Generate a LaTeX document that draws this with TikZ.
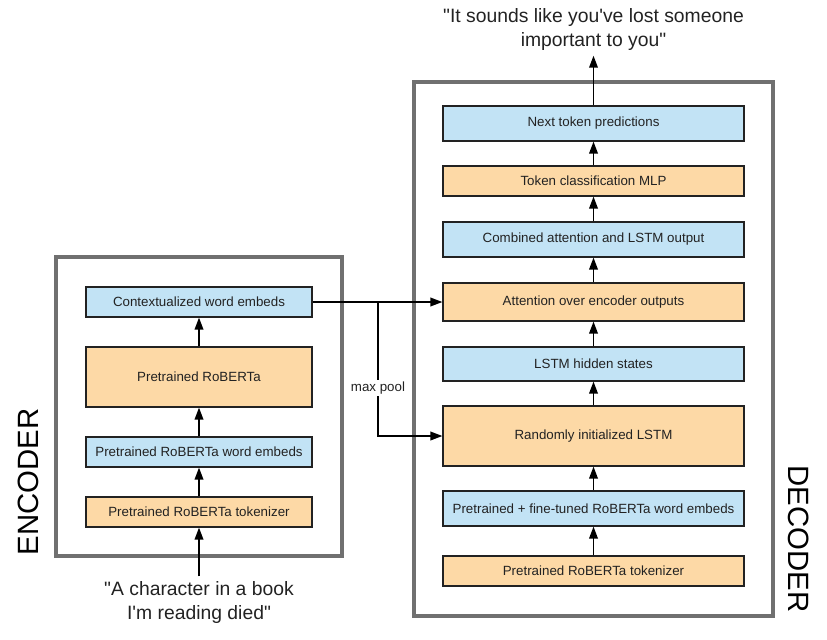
\documentclass[tikz,border=0pt]{standalone}
\usepackage{fontspec}
\setmainfont{Liberation Sans}
\usetikzlibrary{arrows.meta}
\definecolor{boxblue}{HTML}{C2E3F5}
\definecolor{boxorange}{HTML}{FDD9A6}
\definecolor{framegray}{HTML}{707070}
\definecolor{inkgray}{HTML}{222222}

\begin{document}
\begin{tikzpicture}[x=0.75pt,y=-0.75pt,
    blk/.style 2 args={draw=inkgray,line width=0.9pt,inner sep=0pt,
        minimum width=#1*0.75pt,minimum height=#2*0.75pt,
        font=\fontsize{10}{12}\selectfont,text=inkgray},
    bluebox/.style={fill=boxblue},
    orangebox/.style={fill=boxorange},
    frame/.style={draw=framegray,line width=2.5pt},
    arr/.style={-{Triangle[length=9pt,width=6.5pt]},line width=1.1pt,draw=black},
    quote/.style={align=center,font=\fontsize{14.5}{18}\selectfont,text=inkgray}]
    \useasboundingbox (0,0) rectangle (827,639);
    % Frames
    \draw[frame] (56,257) rectangle (342,556);
    \draw[frame] (414,82) rectangle (773,616);
    \node[rotate=90,font=\fontsize{22}{22}\selectfont] (enclabel) at (28,482) {ENCODER};
    \node[rotate=-90,font=\fontsize{22}{22}\selectfont] (declabel) at (799,539) {DECODER};
    % Encoder
    \node[blk={226}{30},bluebox] (ectx) at (199,302) {Contextualized word embeds};
    \node[blk={226}{60},orangebox] (erob) at (199,377) {Pretrained RoBERTa};
    \node[blk={226}{30},bluebox] (eemb) at (199,452) {Pretrained RoBERTa word embeds};
    \node[blk={226}{30},orangebox] (etok) at (199,512) {Pretrained RoBERTa tokenizer};
    \node[quote] (intxt) at (199,602) {\textquotedbl A character in a book\\I\textquotesingle m reading died\textquotedbl};
    % Decoder
    \node[blk={301}{35},bluebox] (dnext) at (593.5,123.5) {Next token predictions};
    \node[blk={301}{30},orangebox] (dmlp) at (593.5,181) {Token classification MLP};
    \node[blk={301}{35},bluebox] (dcomb) at (593.5,239.5) {Combined attention and LSTM output};
    \node[blk={301}{38},orangebox] (dattn) at (593.5,302) {Attention over encoder outputs};
    \node[blk={301}{34},bluebox] (dhid) at (593.5,364) {LSTM hidden states};
    \node[blk={301}{60},orangebox] (dlstm) at (593.5,436) {Randomly initialized LSTM};
    \node[blk={301}{35},bluebox] (demb) at (593.5,508.5) {Pretrained + fine-tuned RoBERTa word embeds};
    \node[blk={301}{30},orangebox] (dtok) at (593.5,571) {Pretrained RoBERTa tokenizer};
    \node[quote] (outtxt) at (593.5,30) {\textquotedbl It sounds like you\textquotesingle ve lost someone\\important to you\textquotedbl};
    % Vertical arrows
    \foreach \a/\b in {intxt/etok,etok/eemb,eemb/erob,erob/ectx} {
        \draw[arr] (\a) -- (\b);
    }
    \foreach \a/\b in {dtok/demb,demb/dlstm,dlstm/dhid,dhid/dattn,dattn/dcomb,dcomb/dmlp,dmlp/dnext,dnext/outtxt} {
        \draw[arr] (\a) -- (\b);
    }
    % Encoder to decoder
    \coordinate (split) at (378,302);
    \draw[arr] (ectx.east) -- (dattn.west);
    \draw[arr] (split) |- node[pos=0.32,fill=white,inner sep=1.5pt,font=\fontsize{10}{12}\selectfont,text=inkgray] (maxpool) {max pool} (dlstm.west);
\end{tikzpicture}
\end{document}
